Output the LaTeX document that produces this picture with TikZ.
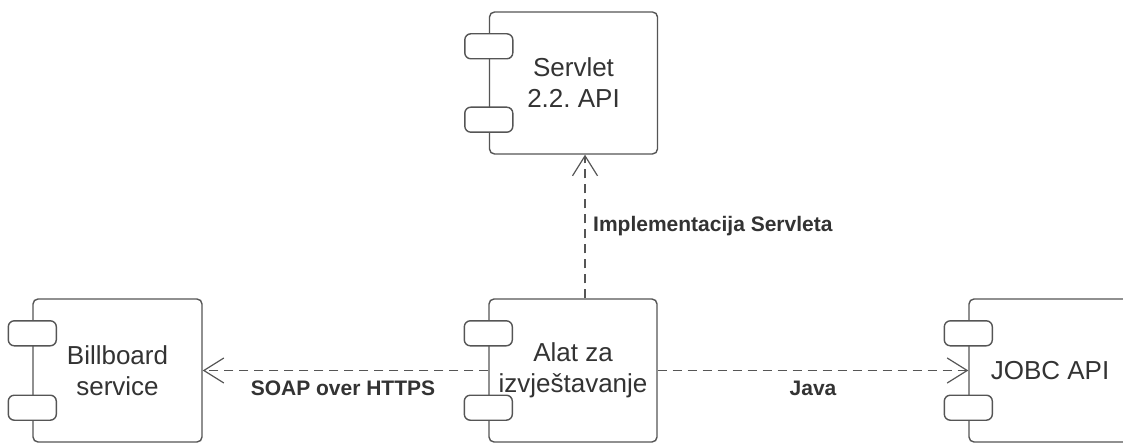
\documentclass[tikz,border=0pt]{standalone}
\usepackage{fontspec}
\setmainfont{Liberation Sans}
\usetikzlibrary{arrows.meta,calc}
\definecolor{linegray}{HTML}{555555}
\definecolor{textgray}{HTML}{333333}
\frenchspacing
\begin{document}
\begin{tikzpicture}[x=1pt,y=-1pt,
  comp/.style={draw=linegray, line width=1.4pt, rounded corners=5pt, fill=white,
    minimum width=168pt, minimum height=143pt, inner sep=0pt,
    align=center, text=textgray, font=\fontsize{26}{31}\selectfont},
  port/.style={draw=linegray, line width=1.4pt, rounded corners=6pt, fill=white,
    minimum width=48pt, minimum height=25pt, inner sep=0pt},
  dep/.style={draw=linegray, line width=1.2pt, dash pattern=on 9pt off 6pt,
    -{Straight Barb[length=20pt,width=25pt,line width=1.2pt]}},
  lbl/.style={text=textgray, font=\fontsize{21}{25}\selectfont\bfseries, inner sep=0pt}]
\useasboundingbox (0,0) rectangle (1123,443);
\clip (0,0) rectangle (1123,443);
\fill[white] (0,0) rectangle (1123,443);

\node[comp, minimum height=142pt] (servlet) at (573.5,83) {Servlet\\2.2.\ API};
\node[comp, minimum width=169pt] (billboard) at (117.5,370.5) {Billboard\\service};
\node[comp] (alat) at (573,370.5) {Alat za\\izvještavanje};
\node[comp, minimum width=169pt] (jobc) at (1053.5,370.5) {\hspace*{-7pt}JOBC API};

\foreach \n in {servlet,billboard,alat,jobc}{
  \node[port] (\n-p1) at ($(\n.north west)+(0,35)$) {};
  \node[port] (\n-p2) at ($(\n.south west)+(0,-35)$) {};
}

\coordinate (vx) at (585,0);
\draw[dep] (alat.north -| vx) -- (servlet.south -| vx);
\draw[dep] (alat.west) -- (billboard.east);
\draw[dep] (alat.east) -- (jobc.west);

\node[lbl, anchor=west] (limpl) at (593,226) {Implementacija Servleta};
\node[lbl] (lsoap) at (343,388) {SOAP over HTTPS};
\node[lbl] (ljava) at (813,388) {Java};
\end{tikzpicture}
\end{document}
